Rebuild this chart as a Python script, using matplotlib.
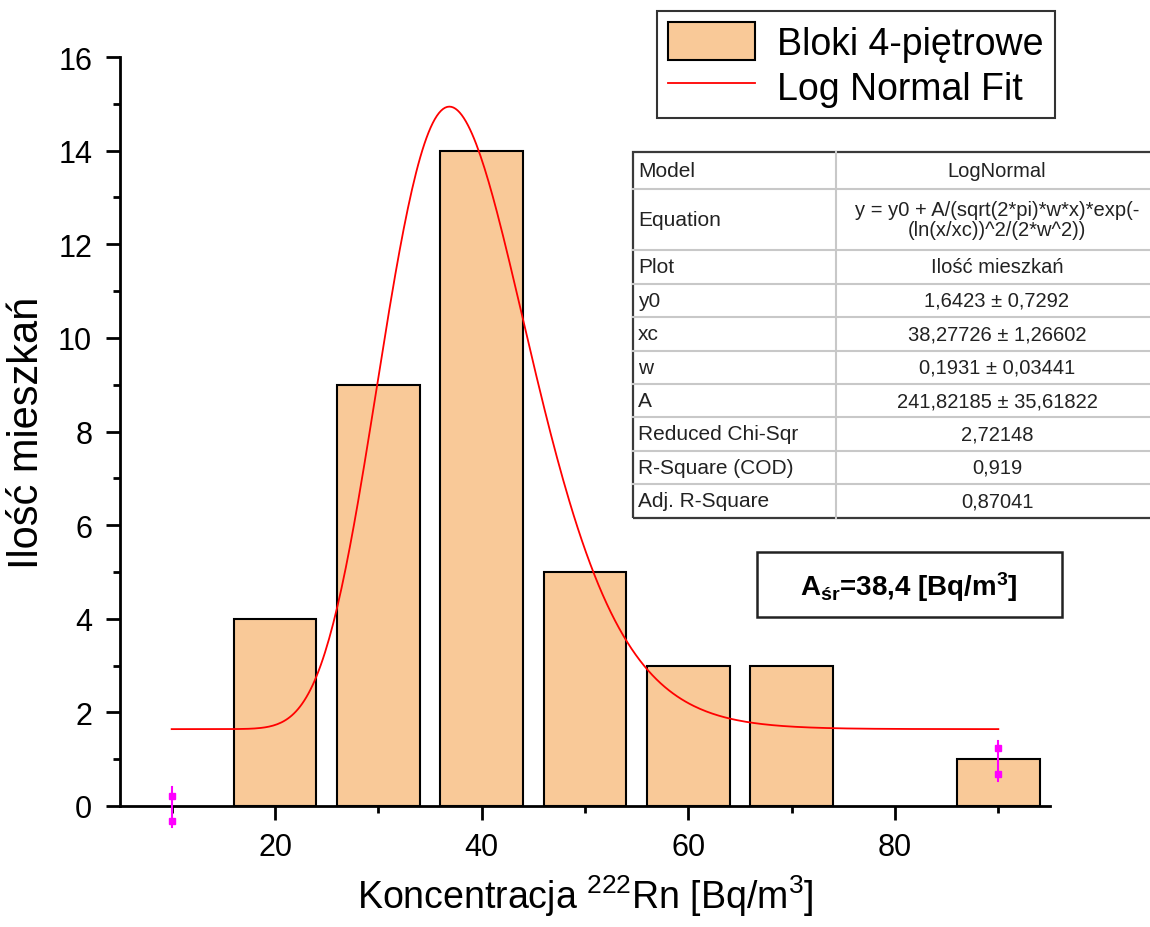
import numpy as np
import matplotlib
matplotlib.use("Agg")
import matplotlib.pyplot as plt
from matplotlib.patches import Rectangle
from matplotlib.lines import Line2D
from matplotlib.ticker import MultipleLocator

plt.rcParams['font.family'] = ['Liberation Sans', 'DejaVu Sans']
plt.rcParams['mathtext.fontset'] = 'custom'
plt.rcParams['mathtext.rm'] = 'Liberation Sans'
plt.rcParams['mathtext.bf'] = 'Liberation Sans:bold'
plt.rcParams['mathtext.it'] = 'Liberation Sans:italic'

# ---- data ----
bin_centers = [20, 30, 40, 50, 60, 70, 90]
counts = [4, 9, 14, 5, 3, 3, 1]
bar_width = 8

# log-normal fit parameters (from the fit table)
y0 = 1.6423
xc = 38.27726
w = 0.1931
A = 241.82185
fit_x_min, fit_x_max = 10, 90

# magenta marks at the ends of the fit range
mark_x = [10, 90]
mark_lo = [-0.32, 0.68]
mark_hi = [0.21, 1.24]
mark_line_lo = [-0.45, 0.53]
mark_line_hi = [0.40, 1.39]

table_labels = ["Model", "Equation", "Plot", "y0", "xc", "w", "A",
                "Reduced Chi-Sqr", "R-Square (COD)", "Adj. R-Square"]
table_values = ["LogNormal",
                "y = y0 + A/(sqrt(2*pi)*w*x)*exp(-\n(ln(x/xc))^2/(2*w^2))",
                "Ilość mieszkań",
                "1,6423 ± 0,7292",
                "38,27726 ± 1,26602",
                "0,1931 ± 0,03441",
                "241,82185 ± 35,61822",
                "2,72148",
                "0,919",
                "0,87041"]

W, H = 1150, 928
fig = plt.figure(figsize=(W / 100, H / 100), dpi=100)
ax = fig.add_axes([120 / W, 1 - 807 / H, (1050 - 120) / W, (807 - 58) / H])

bar_color = '#F9C998'
bars = ax.bar(bin_centers, counts, width=bar_width, color=bar_color,
              edgecolor='black', linewidth=1.5, label='Bloki 4-piętrowe', zorder=2)

xf = np.linspace(fit_x_min, fit_x_max, 400)
yf = y0 + A / (np.sqrt(2 * np.pi) * w * xf) * np.exp(-(np.log(xf / xc)) ** 2 / (2 * w ** 2))
line, = ax.plot(xf, yf, color='red', lw=1.3, label='Log Normal Fit', zorder=3)

for mx, lo, hi, llo, lhi in zip(mark_x, mark_lo, mark_hi, mark_line_lo, mark_line_hi):
    ax.plot([mx, mx], [llo, lhi], color='#FF00FF', lw=1.5, zorder=4, clip_on=False)
    ax.plot([mx, mx], [lo, hi], ls='none', marker='s', ms=4.5, color='#FF00FF',
            zorder=4, clip_on=False)

ax.set_xlim(5, 95)
ax.set_ylim(0, 16)
ax.xaxis.set_major_locator(MultipleLocator(20))
ax.xaxis.set_minor_locator(MultipleLocator(10))
ax.yaxis.set_major_locator(MultipleLocator(2))
ax.yaxis.set_minor_locator(MultipleLocator(1))
for s in ['top', 'right']:
    ax.spines[s].set_visible(False)
for s in ['left', 'bottom']:
    ax.spines[s].set_linewidth(2)
ax.tick_params(which='major', direction='out', length=10, width=2, labelsize=22)
ax.tick_params(axis='x', which='major', pad=9)
ax.tick_params(axis='y', which='major', pad=10)
ax.tick_params(which='minor', direction='out', length=5, width=2)

ax.set_xlabel("Koncentracja $^{\\mathregular{222}}$Rn [Bq/m$^{\\mathregular{3}}$]", fontsize=27, labelpad=7)
ax.set_ylabel("Ilość mieszkań", fontsize=30, labelpad=8)

leg = fig.legend(handles=[bars, line], loc='upper left',
                 bbox_to_anchor=(657 / W, 1 - 12 / H), bbox_transform=fig.transFigure,
                 fontsize=27, frameon=True, fancybox=False, shadow=False,
                 framealpha=1, edgecolor='#333333', borderaxespad=0,
                 handlelength=2.3, handleheight=1.17, labelspacing=0.15,
                 handletextpad=0.6, borderpad=0.3)
leg.get_frame().set_linewidth(1.5)


def fx(x):
    return x / W


def fy(y):
    return 1 - y / H


# ---- fit table ----
row_edges = [153, 190, 251, 285, 318, 352, 385, 418, 452, 485, 519]
tab_left, tab_div, tab_right = 633, 836, 1160
col2_center = 997
for i in range(1, len(row_edges) - 1):
    fig.add_artist(Line2D([fx(tab_left), fx(tab_right)], [fy(row_edges[i])] * 2,
                          color='#c8c8c8', lw=1.5))
fig.add_artist(Line2D([fx(tab_div)] * 2, [fy(row_edges[0]), fy(row_edges[-1])],
                      color='#c8c8c8', lw=1.5))
fig.add_artist(Rectangle((fx(tab_left), fy(row_edges[-1])),
                         fx(tab_right) - fx(tab_left), fy(row_edges[0]) - fy(row_edges[-1]),
                         fill=False, edgecolor='#3a3a3a', lw=1.6, transform=fig.transFigure))
for i, (lab, val) in enumerate(zip(table_labels, table_values)):
    yc = (row_edges[i] + row_edges[i + 1]) / 2
    fig.text(fx(638), fy(yc), lab, ha='left', va='center', fontsize=15, color='#222222')
    fig.text(fx(col2_center), fy(yc), val, ha='center', va='center', fontsize=14.5,
             color='#222222', linespacing=1.0)

# ---- mean annotation ----
fig.add_artist(Rectangle((fx(757), fy(618)), fx(1062) - fx(757), fy(553) - fy(618),
                         fill=True, facecolor='white', edgecolor='#222222', lw=1.8,
                         transform=fig.transFigure))
fig.text(fx(909), fy(587), "A$_{\\mathbf{śr}}$=38,4 [Bq/m$^{\\mathbf{3}}$]",
         ha='center', va='center', fontsize=20, fontweight='bold')

fig.savefig("out.png", dpi=100)
